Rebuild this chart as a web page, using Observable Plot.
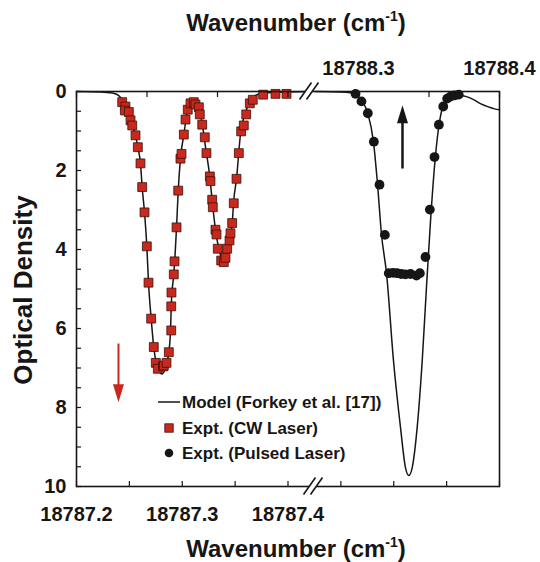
<!DOCTYPE html>
<html><head><meta charset="utf-8">
<script src="https://cdn.jsdelivr.net/npm/d3@7"></script>
<script src="https://cdn.jsdelivr.net/npm/@observablehq/plot@0.6"></script>
<style>body{margin:0;background:#fff}</style>
</head><body><div id="chart"></div>
<script>
// CW laser data (bottom axis wavenumber, cm-1)
const cwWavenumber = [18787.2432,18787.2463,18787.2457,18787.2495,18787.2511,18787.2527,18787.2558,18787.2580,18787.2605,18787.2621,18787.2643,18787.2665,18787.2681,18787.2706,18787.2731,18787.2750,18787.2769,18787.2818,18787.2826,18787.2851,18787.2873,18787.2896,18787.2896,18787.2898,18787.2920,18787.2927,18787.2946,18787.2962,18787.2983,18787.2993,18787.3015,18787.3031,18787.3052,18787.3078,18787.3109,18787.3125,18787.3157,18787.3166,18787.3189,18787.3213,18787.3229,18787.3261,18787.3267,18787.3283,18787.3289,18787.3314,18787.3324,18787.3336,18787.3368,18787.3393,18787.3409,18787.3425,18787.3447,18787.3456,18787.3472,18787.3487,18787.3513,18787.3535,18787.3557,18787.3582,18787.3605,18787.3639,18787.3667,18787.3765,18787.3882,18787.3986];
const cwOD = [0.27,0.38,0.48,0.52,0.73,0.86,1.11,1.41,1.82,2.42,3.06,3.92,4.84,5.75,6.47,6.87,7.02,6.96,6.94,6.87,6.60,6.05,5.44,5.09,4.63,4.30,3.44,2.51,1.70,1.58,1.09,0.71,0.46,0.30,0.27,0.33,0.40,0.58,0.84,1.16,1.56,2.15,2.27,2.74,2.93,3.50,3.62,3.98,4.28,4.32,4.21,3.98,3.77,3.59,3.33,2.83,2.21,1.56,1.01,0.86,0.58,0.30,0.21,0.08,0.06,0.06];

// Pulsed laser data (top axis wavenumber, cm-1)
const pulsedWavenumber = [18788.2979,18788.3021,18788.3066,18788.3109,18788.3149,18788.3187,18788.3215,18788.3246,18788.3274,18788.3303,18788.3333,18788.3369,18788.3411,18788.3435,18788.3475,18788.3506,18788.3539,18788.3570,18788.3601,18788.3629,18788.3652,18788.3681,18788.3711];
const pulsedOD = [0.06,0.25,0.55,1.27,2.36,3.63,4.60,4.59,4.60,4.62,4.63,4.62,4.66,4.60,4.19,2.99,1.66,0.84,0.38,0.18,0.13,0.10,0.08];

// Model (Forkey et al.) curve, CW part (bottom axis)
const modelCWWavenumber = [18787.2000,18787.2227,18787.2340,18787.2397,18787.2435,18787.2463,18787.2495,18787.2527,18787.2558,18787.2580,18787.2605,18787.2621,18787.2643,18787.2665,18787.2681,18787.2706,18787.2731,18787.2769,18787.2810,18787.2842,18787.2873,18787.2889,18787.2898,18787.2920,18787.2946,18787.2962,18787.2983,18787.3015,18787.3052,18787.3094,18787.3141,18787.3189,18787.3220,18787.3261,18787.3283,18787.3298,18787.3330,18787.3362,18787.3387,18787.3425,18787.3472,18787.3487,18787.3513,18787.3551,18787.3598,18787.3645,18787.3692,18787.3771,18787.3882,18787.4203];
const modelCWOD = [0,0.01,0.04,0.10,0.22,0.35,0.53,0.84,1.11,1.41,1.82,2.42,3.06,3.92,4.84,5.75,6.48,7.01,7.15,6.98,6.60,6.05,5.29,4.63,3.44,2.51,1.70,1.09,0.46,0.25,0.35,0.82,1.41,2.17,2.76,3.14,3.77,4.15,4.36,4.03,3.35,2.76,2.21,1.07,0.52,0.25,0.10,0.04,0.02,0];

// Model curve, pulsed part (top axis)
const modelPulsedWavenumber = [18788.2695,18788.2872,18788.2943,18788.2986,18788.3021,18788.3064,18788.3106,18788.3135,18788.3163,18788.3199,18788.3248,18788.3298,18788.3333,18788.3357,18788.3381,18788.3416,18788.3452,18788.3482,18788.3511,18788.3539,18788.3567,18788.3596,18788.3624,18788.3667,18788.3709,18788.3766,18788.3823,18788.3872,18788.3922,18788.3965,18788.4000];
const modelPulsedOD = [0,0.01,0.03,0.08,0.23,0.53,1.27,2.35,3.62,4.61,6.81,8.51,9.52,9.72,9.52,8.51,6.81,4.96,3.27,1.90,0.95,0.40,0.17,0.10,0.09,0.13,0.22,0.32,0.39,0.44,0.46];

// Tick labels
const bottomTickLabels = [18787.2, 18787.3, 18787.4];
const topTickLabels = [18788.3, 18788.4];
const yTickLabels = [0, 2, 4, 6, 8, 10];
const legendLabels = ["Model (Forkey et al. [17])", "Expt. (CW Laser)", "Expt. (Pulsed Laser)"];

// Axis domains
const bottomDomain = [18787.2, 18787.6];
const topDomain = [18788.1, 18788.4];
const k = (bottomDomain[1] - bottomDomain[0]) / (topDomain[1] - topDomain[0]);
const toB = t => bottomDomain[0] + (t - topDomain[0]) * k;
const toT = b => topDomain[0] + (b - bottomDomain[0]) / k;

// Arrow annotations (data units)
const redArrow = [{x: 18787.2397, tail: 6.38, tip: 7.87}];
const blackArrow = [{x: toB(18788.3312), tail: 1.95, tip: 0.35}];

const cwRows = cwWavenumber.map((x, i) => ({x, y: cwOD[i]}));
const pulsedRows = pulsedWavenumber.map((t, i) => ({x: toB(t), y: pulsedOD[i]}));
const modelRows = [
  ...modelCWWavenumber.map((x, i) => ({x, y: modelCWOD[i], seg: "cw"})),
  ...modelPulsedWavenumber.map((t, i) => ({x: toB(t), y: modelPulsedOD[i], seg: "pulsed"}))
];

const yMinor = d3.range(0, 21).map(i => i * 0.5);
const bottomMinor = d3.range(0, 9).map(i => bottomDomain[0] + i * 0.05);
const topMinor = d3.range(0, 7).map(i => toB(topDomain[0] + i * 0.05));

const headDown = {draw(c) { c.moveTo(0, 0); c.lineTo(-5.5, -18); c.lineTo(5.5, -18); c.closePath(); }};
const headUp = {draw(c) { c.moveTo(0, 0); c.lineTo(-5.5, 18); c.lineTo(5.5, 18); c.closePath(); }};

const RED = "#c9281d";
const INK = "#161616";

const chart = Plot.plot({
  width: 540, height: 562,
  marginLeft: 76, marginRight: 41, marginTop: 91, marginBottom: 76,
  style: {fontFamily: "'Liberation Sans', Arial, sans-serif", fontWeight: "bold", color: INK, background: "#fff"},
  x: {domain: bottomDomain},
  y: {domain: [0, 10], reverse: true},
  marks: [
    Plot.line(modelRows, {x: "x", y: "y", z: "seg", stroke: INK, strokeWidth: 1.5, curve: "monotone-x"}),
    Plot.dot(cwRows, {x: "x", y: "y", symbol: "square", r: 5, fill: RED, stroke: "#3a120c", strokeWidth: 0.8}),
    Plot.dot(pulsedRows, {x: "x", y: "y", r: 4.9, fill: INK}),
    Plot.link(redArrow, {x1: "x", x2: "x", y1: "tail", y2: d => d.tip - 0.4, stroke: RED, strokeWidth: 2}),
    Plot.dot(redArrow, {x: "x", y: "tip", symbol: headDown, r: 5, fill: RED, stroke: "none"}),
    Plot.link(blackArrow, {x1: "x", x2: "x", y1: "tail", y2: d => d.tip + 0.4, stroke: INK, strokeWidth: 2.5}),
    Plot.dot(blackArrow, {x: "x", y: "tip", symbol: headUp, r: 5, fill: INK, stroke: "none"}),
    Plot.frame({stroke: INK, strokeWidth: 1.6}),
    Plot.axisY(yMinor, {tickSize: -5, tickFormat: () => "", label: null, strokeWidth: 1.2}),
    Plot.axisY(yTickLabels, {tickSize: 0, tickPadding: 10, fontSize: 20, label: null}),
    Plot.axisX(bottomMinor, {anchor: "bottom", tickSize: -5, tickFormat: () => "", label: null, strokeWidth: 1.2}),
    Plot.axisX(bottomTickLabels, {anchor: "bottom", tickSize: 0, tickPadding: 20, fontSize: 20, tickFormat: d3.format(".1f"), label: null}),
    Plot.axisX(topMinor, {anchor: "top", tickSize: -5, tickFormat: () => "", label: null, strokeWidth: 1.2}),
    Plot.axisX(topTickLabels.map(toB), {anchor: "top", tickSize: 0, tickPadding: 17, fontSize: 20, tickFormat: d => d3.format(".1f")(toT(d)), label: null})
  ]
});

document.getElementById("chart").appendChild(chart);

// Decorations: axis titles, break marks, legend
const svg = d3.select(chart);
function title(x, y) {
  const t = svg.append("text").attr("x", x).attr("y", y).attr("text-anchor", "middle")
    .attr("font-size", 24).attr("font-weight", "bold").attr("fill", INK);
  t.append("tspan").text("Wavenumber (cm");
  t.append("tspan").attr("font-size", 14).attr("dy", -10).text("-1");
  t.append("tspan").attr("dy", 10).text(")");
}
title(296, 31);
title(296, 557);
svg.append("text").attr("transform", "translate(32,290) rotate(-90)").attr("text-anchor", "middle")
  .attr("font-size", 26).attr("font-weight", "bold").attr("fill", INK).text("Optical Density");

function brk(cx, cy) {
  const x0 = cx - 9.5;
  svg.append("polygon").attr("points", `${x0},${cy + 8.5} ${x0 + 12},${cy - 8.5} ${x0 + 19},${cy - 8.5} ${x0 + 7},${cy + 8.5}`)
    .attr("fill", "#fff");
  for (let i = 0; i < 2; i++) {
    svg.append("line").attr("x1", x0 + i * 7).attr("y1", cy + 8.5).attr("x2", x0 + i * 7 + 12).attr("y2", cy - 8.5)
      .attr("stroke", INK).attr("stroke-width", 1.6);
  }
}
brk(309, 91);
brk(313, 486);

const lg = svg.append("g").attr("font-size", 17).attr("font-weight", "bold").attr("fill", INK).attr("text-anchor", "start");
lg.append("line").attr("x1", 158).attr("x2", 180).attr("y1", 402).attr("y2", 402).attr("stroke", INK).attr("stroke-width", 1.5);
lg.append("rect").attr("x", 164.8).attr("y", 423.8).attr("width", 8.4).attr("height", 8.4).attr("fill", RED).attr("stroke", "#3a120c").attr("stroke-width", 0.8);
lg.append("circle").attr("cx", 169).attr("cy", 453).attr("r", 4.3).attr("fill", INK);
legendLabels.forEach((s, i) => {
  lg.append("text").attr("x", 182).attr("y", [408, 434, 459][i]).attr("text-anchor", "start").text(s);
});
</script>
</body></html>
